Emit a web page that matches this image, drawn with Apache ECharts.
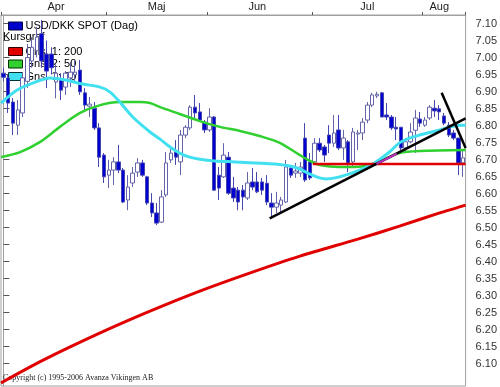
<!DOCTYPE html>
<html>
<head>
<meta charset="utf-8">
<script src="https://cdn.jsdelivr.net/npm/echarts@6/dist/echarts.min.js"></script>
<style>
html,body{margin:0;padding:0;background:#fff;}
#chart{width:500px;height:387px;}
</style>
</head>
<body>
<div id="chart"></div>
<script>
// ---- data ----
const monthNames = ['Apr', 'Maj', 'Jun', 'Jul', 'Aug'];
const monthStart = [0, 22, 43, 65, 88];
const monthLabelAt = [11, 32, 53, 76, 91];
const yTicks = [6.10, 6.15, 6.20, 6.25, 6.30, 6.35, 6.40, 6.45, 6.50, 6.55, 6.60, 6.65, 6.70, 6.75, 6.80, 6.85, 6.90, 6.95, 7.00, 7.05, 7.10];

const opens = [6.954,6.94,6.869,6.801,6.837,6.93,6.99,7.02,7.07,7.01, 7.01,6.928,6.934,6.913,6.94,6.949,6.963,6.896,6.857,6.851, 6.793,6.713,6.654,6.669,6.693,6.669,6.581,6.631,6.663,6.69, 6.649,6.572,6.543,6.516,6.596,6.699,6.722,6.693,6.772,6.793, 6.854,6.84,6.81,6.787,6.825,6.654,6.649,6.707,6.616,6.61, 6.61,6.587,6.634,6.634,6.634,6.63,6.572,6.56,6.566,6.575, 6.675,6.66,6.66,6.763,6.693,6.693,6.748,6.737,6.772,6.748, 6.787,6.734,6.752,6.693,6.775,6.778,6.816,6.86,6.887,6.896, 6.831,6.825,6.795,6.795,6.734,6.752,6.786,6.819,6.801,6.822, 6.851,6.849,6.828,6.801,6.778,6.763,6.69];
const closes = [6.942,6.866,6.807,6.846,6.94,7.00,7.03,7.06,6.99,6.96, 6.97,6.954,6.904,6.954,6.957,6.957,6.899,6.86,6.863,6.793, 6.707,6.649,6.669,6.693,6.669,6.575,6.619,6.66,6.69,6.654, 6.572,6.543,6.513,6.59,6.69,6.719,6.707,6.772,6.795,6.854, 6.837,6.816,6.787,6.825,6.61,6.616,6.713,6.601,6.587,6.575, 6.59,6.631,6.619,6.605,6.61,6.575,6.56,6.572,6.581,6.678, 6.654,6.666,6.678,6.64,6.646,6.748,6.728,6.713,6.748,6.778, 6.734,6.763,6.69,6.781,6.778,6.81,6.86,6.89,6.892,6.825, 6.825,6.793,6.79,6.734,6.752,6.781,6.822,6.807,6.816,6.854, 6.843,6.84,6.807,6.772,6.763,6.69,6.705];
const lows = [6.93,6.837,6.772,6.772,6.825,6.91,6.97,7.00,6.97,6.91, 6.95,6.88,6.875,6.89,6.913,6.925,6.89,6.846,6.825,6.787, 6.678,6.631,6.616,6.625,6.66,6.572,6.551,6.619,6.649,6.649, 6.566,6.531,6.507,6.513,6.59,6.69,6.684,6.654,6.763,6.787, 6.816,6.81,6.778,6.781,6.608,6.581,6.646,6.596,6.575,6.551, 6.551,6.581,6.61,6.601,6.596,6.566,6.531,6.543,6.546,6.572, 6.646,6.646,6.649,6.634,6.64,6.69,6.722,6.693,6.719,6.737, 6.728,6.699,6.663,6.678,6.728,6.757,6.807,6.854,6.881,6.825, 6.816,6.787,6.757,6.728,6.722,6.748,6.719,6.796,6.796,6.816, 6.825,6.816,6.801,6.766,6.757,6.654,6.649];
const highs = [6.97,6.95,6.881,6.875,6.957,7.04,7.06,7.09,7.11,7.05, 7.03,6.98,6.954,6.96,6.987,6.993,6.993,6.91,6.884,6.869, 6.807,6.719,6.699,6.707,6.743,6.675,6.654,6.678,6.704,6.699, 6.652,6.601,6.572,6.61,6.722,6.737,6.757,6.787,6.801,6.86, 6.89,6.866,6.816,6.851,6.828,6.678,6.748,6.722,6.649,6.619, 6.625,6.663,6.675,6.663,6.646,6.654,6.601,6.605,6.59,6.699, 6.684,6.69,6.693,6.807,6.719,6.763,6.763,6.743,6.801,6.831, 6.831,6.787,6.757,6.793,6.787,6.822,6.869,6.896,6.899,6.899, 6.866,6.831,6.825,6.795,6.763,6.807,6.846,6.84,6.825,6.86, 6.875,6.86,6.837,6.81,6.787,6.763,6.728];

// moving averages: [day position, value]
const ma200 = [[-0.5,6.043],[8.3,6.110],[20.2,6.190],[30.6,6.254],[41.0,6.313],[51.4,6.366],[61.9,6.416],[74.0,6.466],[82.7,6.504],[91.1,6.543],[96.5,6.566]];
const ma50 = [[-0.5,6.707],[3.5,6.722],[7.6,6.751],[11.8,6.796],[16.0,6.837],[20.2,6.860],[24.3,6.869],[28.5,6.869],[30.6,6.866],[32.7,6.854],[36.8,6.834],[41.0,6.813],[45.2,6.796],[49.4,6.784],[53.5,6.769],[57.7,6.749],[61.9,6.713],[64.0,6.696],[66.0,6.684],[70.2,6.678],[73.3,6.678],[76.5,6.684],[79.6,6.701],[82.7,6.719],[86.9,6.725],[96.5,6.728]];
const ma20 = [[-0.5,6.866],[2.8,6.904],[6.2,6.925],[9.7,6.940],[12.9,6.934],[16.6,6.922],[20.2,6.913],[22.2,6.899],[24.3,6.869],[27.0,6.825],[30.6,6.781],[32.7,6.760],[34.8,6.737],[36.8,6.719],[38.9,6.707],[41.0,6.701],[44.1,6.696],[48.3,6.693],[52.5,6.690],[56.7,6.687],[59.8,6.681],[61.9,6.672],[64.0,6.657],[66.0,6.646],[67.5,6.643],[70.2,6.649],[74.4,6.669],[77.5,6.690],[80.6,6.722],[82.7,6.749],[84.8,6.763],[86.9,6.772],[91.1,6.787],[93.2,6.796],[95.3,6.801],[96.5,6.801]];

// hand-drawn support / trend lines
const supportLine = [[64.6,6.687],[96.5,6.687]];
const trendUp = [[55.6,6.527],[96.5,6.821]];
const trendDown = [[91.5,6.896],[96.5,6.734]];
const trendPink = [[77.9,6.687],[82.1,6.717]];

// ---- chart ----
const N = opens.length;
const categories = opens.map((_, i) => String(i));
const ohlc = opens.map((o, i) => [o, closes[i], lows[i], highs[i]]);

const FONT = 'Liberation Sans';
const chart = echarts.init(document.getElementById('chart'), null, {renderer: 'canvas'});

const lineSeries = (name, data, color, width, z) => ({
  name, type: 'line', xAxisIndex: 1, yAxisIndex: 0, data,
  symbol: 'none', smooth: 0.3, color,
  lineStyle: {color, width}, z, silent: true, animation: false
});

chart.setOption({
  animation: false,
  backgroundColor: '#fff',
  grid: {left: 1, right: 34, top: 15, bottom: 1, show: true, borderColor: '#a0a0a0', borderWidth: 1, backgroundColor: '#fff'},
  legend: [
    {
      left: 3, top: 15, orient: 'vertical', z: 1, icon: 'rect',
      itemWidth: 14, itemHeight: 8, itemGap: 0,
      selectedMode: false,
      textStyle: {fontFamily: FONT, fontSize: 11, color: '#000', lineHeight: 12, padding: [0, 0, 0, -2]},
      data: [{name: 'USD/DKK SPOT (Dag)', itemStyle: {color: '#0000cc', borderColor: '#000040', borderWidth: 1}}]
    },
    {
      left: 3, top: 40.5, orient: 'vertical', z: 1, icon: 'rect',
      itemWidth: 14, itemHeight: 8, itemGap: 0.5,
      selectedMode: false,
      textStyle: {fontFamily: FONT, fontSize: 11, color: '#000', lineHeight: 12, padding: [0, 0, 0, -2]},
      data: [
        {name: 'Gns. 1: 200', itemStyle: {color: '#e00000', borderColor: '#300000', borderWidth: 1}},
        {name: 'Gns. 2: 50', itemStyle: {color: '#30d030', borderColor: '#003000', borderWidth: 1}},
        {name: 'Gns. 3: 20', itemStyle: {color: '#40e0f0', borderColor: '#003030', borderWidth: 1}}
      ]
    }
  ],
  graphic: [
    {type: 'text', left: 3, top: 31, z: 1, style: {text: 'Kursgraf', fontFamily: FONT, fontSize: 11, fill: '#000'}},
    {type: 'text', left: 3, top: 374, z: 1, style: {text: 'Copyright (c) 1995-2006 Avanza Vikingen AB', fontFamily: 'Liberation Serif', fontSize: 8, fill: '#222'}}
  ],
  xAxis: [
    {
      type: 'category', position: 'top', data: categories, boundaryGap: true,
      axisLine: {show: true, lineStyle: {color: '#a0a0a0', width: 1}},
      axisTick: {show: true, length: 3, interval: (i) => monthStart.includes(i), lineStyle: {color: '#555'}},
      axisLabel: {
        show: true, margin: 3, fontFamily: FONT, fontSize: 11, color: '#222',
        interval: (i) => monthLabelAt.includes(i),
        formatter: (v, i) => { const k = monthLabelAt.indexOf(i); return k >= 0 ? monthNames[k] : ''; }
      },
      splitLine: {show: false}
    },
    {type: 'value', min: -0.5, max: N - 0.5, show: false, splitLine: {show: false}}
  ],
  yAxis: [{
    type: 'value', position: 'right', min: 6.034, max: 7.125, splitNumber: 20,
    axisLine: {show: true, lineStyle: {color: '#a0a0a0'}},
    axisTick: {show: true, length: 6, customValues: yTicks, lineStyle: {color: '#555'}},
    axisLabel: {
      customValues: yTicks, margin: 10, fontFamily: FONT, fontSize: 11, color: '#333',
      formatter: (v) => (v >= 6.099 && v <= 7.101) ? v.toFixed(2) : ''
    },
    splitLine: {show: false}
  }],
  series: [
    {
      name: 'USD/DKK SPOT (Dag)', type: 'candlestick', xAxisIndex: 0, yAxisIndex: 0,
      data: ohlc, barWidth: 4, z: 3, silent: true,
      itemStyle: {color: '#ffffff', color0: '#0000d0', borderColor: '#6464aa', borderColor0: '#4646b0', borderWidth: 1}
    },
    lineSeries('Gns. 1: 200', ma200, '#e00000', 3, 4),
    lineSeries('Gns. 2: 50', ma50, '#30d030', 2.5, 4),
    lineSeries('Gns. 3: 20', ma20, '#40e0f0', 3, 4),
    {name: 'support', type: 'line', xAxisIndex: 1, data: supportLine, symbol: 'none', lineStyle: {color: '#e00000', width: 2.5}, z: 5, silent: true},
    {name: 'trendUp', type: 'line', xAxisIndex: 1, data: trendUp, symbol: 'none', lineStyle: {color: '#000', width: 2.5}, z: 6, silent: true},
    {name: 'trendPink', type: 'line', xAxisIndex: 1, data: trendPink, symbol: 'none', lineStyle: {color: '#c030c0', width: 2}, z: 7, silent: true},
    {name: 'trendDown', type: 'line', xAxisIndex: 1, data: trendDown, symbol: 'none', lineStyle: {color: '#000', width: 2.5}, z: 6, silent: true}
  ]
});
</script>
</body>
</html>
